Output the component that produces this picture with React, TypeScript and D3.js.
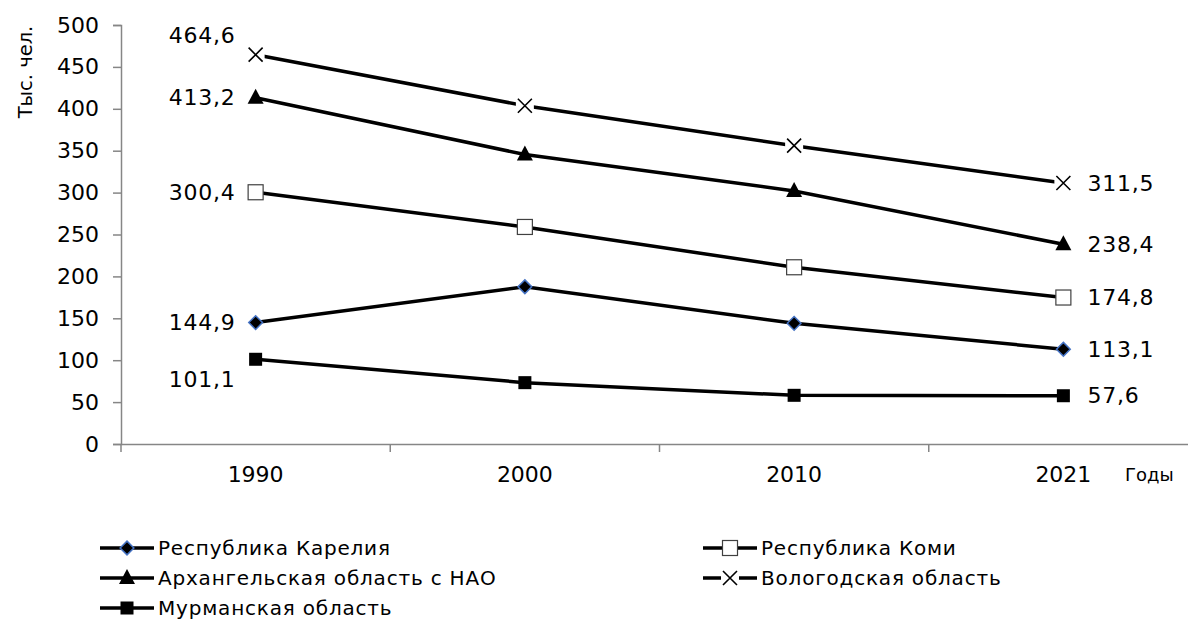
import React, { useEffect, useRef } from "react";
import * as d3 from "d3";

// Chart data
const years = ["1990", "2000", "2010", "2021"];
const karelia = [144.9, 187.7, 144.0, 113.1];
const komi = [300.4, 259.0, 210.9, 174.8];
const arkhangelsk = [413.2, 345.5, 302.0, 238.4];
const vologda = [464.6, 403.7, 356.0, 311.5];
const murmansk = [101.1, 73.2, 58.1, 57.6];
const yTicks = [0, 50, 100, 150, 200, 250, 300, 350, 400, 450, 500];

const seriesNames = [
  "Республика Карелия",
  "Республика Коми",
  "Архангельская область с НАО",
  "Вологодская область",
  "Мурманская область",
];
const seriesValues = [karelia, komi, arkhangelsk, vologda, murmansk];
const seriesMarkers = ["diamond", "openSquare", "triangle", "cross", "square"];

const FONT = "'DejaVu Sans', sans-serif";

const fmt = (v: number) => v.toFixed(1).replace(".", ",");

function drawMarker(g: any, type: string, cx: number, cy: number) {
  if (type === "diamond") {
    g.append("path")
      .attr("d", d3.symbol(d3.symbolDiamond2, 120)())
      .attr("transform", `translate(${cx},${cy})`)
      .attr("fill", "#000")
      .attr("stroke", "#4472c4")
      .attr("stroke-width", 1.5);
  } else if (type === "openSquare") {
    g.append("rect")
      .attr("x", cx - 7.5)
      .attr("y", cy - 7.5)
      .attr("width", 15)
      .attr("height", 15)
      .attr("fill", "#fff")
      .attr("stroke", "#404040")
      .attr("stroke-width", 1.2);
  } else if (type === "triangle") {
    g.append("path")
      .attr("d", `M${cx},${cy - 9}L${cx + 8},${cy + 6}L${cx - 8},${cy + 6}Z`)
      .attr("fill", "#000");
  } else if (type === "cross") {
    g.append("rect")
      .attr("x", cx - 9)
      .attr("y", cy - 7)
      .attr("width", 18)
      .attr("height", 14)
      .attr("fill", "#fff");
    g.append("path")
      .attr("d", `M${cx - 7},${cy - 7}L${cx + 7},${cy + 7}M${cx - 7},${cy + 7}L${cx + 7},${cy - 7}`)
      .attr("stroke", "#000")
      .attr("stroke-width", 1.6)
      .attr("fill", "none");
  } else if (type === "square") {
    g.append("rect")
      .attr("x", cx - 6.5)
      .attr("y", cy - 6.5)
      .attr("width", 13)
      .attr("height", 13)
      .attr("fill", "#000");
  }
}

export default function App() {
  const ref = useRef<SVGSVGElement>(null);

  useEffect(() => {
    var svg = d3.select(ref.current);
    svg.selectAll("*").remove();

    var left = 121,
      right = 1198,
      top = 25,
      bottom = 444;

    var x = d3.scaleBand().domain(years).range([left, right]);
    var y = d3.scaleLinear().domain([0, 500]).range([bottom, top]);
    var cx = (d: string) => (x(d) as number) + x.bandwidth() / 2;

    // Y axis
    var yAxis = svg
      .append("g")
      .attr("transform", `translate(${left},0)`)
      .call(d3.axisLeft(y).tickValues(yTicks).tickSize(8).tickPadding(14));
    yAxis.select(".domain").attr("stroke", "#868686").attr("stroke-width", 1.5);
    yAxis.selectAll(".tick line").attr("stroke", "#868686").attr("stroke-width", 1.5);
    yAxis.selectAll(".tick text").attr("font-family", FONT).attr("font-size", 22).attr("fill", "#000");

    // X axis
    var xAxis = svg
      .append("g")
      .attr("transform", `translate(0,${bottom})`)
      .call(d3.axisBottom(x).tickSize(0).tickPadding(22));
    xAxis.select(".domain").attr("stroke", "#868686").attr("stroke-width", 1.5);
    xAxis.selectAll(".tick text").attr("font-family", FONT).attr("font-size", 22).attr("fill", "#000");
    // category separator ticks
    svg
      .append("g")
      .selectAll("line")
      .data(years.slice(1))
      .join("line")
      .attr("x1", (d) => x(d) as number)
      .attr("x2", (d) => x(d) as number)
      .attr("y1", bottom)
      .attr("y2", bottom + 8)
      .attr("stroke", "#868686")
      .attr("stroke-width", 1.5);
    svg
      .append("line")
      .attr("x1", left)
      .attr("x2", left)
      .attr("y1", bottom)
      .attr("y2", bottom + 8)
      .attr("stroke", "#868686")
      .attr("stroke-width", 1.5);

    // Axis titles
    svg
      .append("text")
      .attr("transform", "translate(32,72) rotate(-90)")
      .attr("text-anchor", "middle")
      .attr("font-family", FONT)
      .attr("font-size", 19.5)
      .text("Тыс. чел.");
    svg
      .append("text")
      .attr("x", 1125)
      .attr("y", 481)
      .attr("font-family", FONT)
      .attr("font-size", 18)
      .text("Годы");

    // Lines and markers
    var line = d3
      .line<number>()
      .x((d, i) => cx(years[i]))
      .y((d) => y(d));

    seriesValues.forEach((vals, s) => {
      var g = svg.append("g");
      g.append("path")
        .attr("d", line(vals))
        .attr("fill", "none")
        .attr("stroke", "#000")
        .attr("stroke-width", 3.5);
      vals.forEach((v, i) => drawMarker(g, seriesMarkers[s], cx(years[i]), y(v)));
    });

    // Data labels at first and last year
    var labelOffsets = [0, 0, 0, -19, 20];
    seriesValues.forEach((vals, s) => {
      svg
        .append("text")
        .attr("x", cx(years[0]) - 20)
        .attr("y", y(vals[0]) + labelOffsets[s])
        .attr("dy", "0.35em")
        .attr("text-anchor", "end")
        .attr("font-family", FONT)
        .attr("font-size", 22)
        .attr("letter-spacing", 0.8)
        .text(fmt(vals[0]));
      svg
        .append("text")
        .attr("x", cx(years[3]) + 24)
        .attr("y", y(vals[3]))
        .attr("dy", "0.35em")
        .attr("font-family", FONT)
        .attr("font-size", 22)
        .attr("letter-spacing", 0.8)
        .text(fmt(vals[3]));
    });

    // Legend
    var legendPos = [
      [100, 548],
      [703, 548],
      [100, 578],
      [703, 578],
      [100, 608],
    ];
    seriesNames.forEach((name, s) => {
      var lx = legendPos[s][0],
        ly = legendPos[s][1];
      var g = svg.append("g");
      g.append("line")
        .attr("x1", lx)
        .attr("x2", lx + 54)
        .attr("y1", ly)
        .attr("y2", ly)
        .attr("stroke", "#000")
        .attr("stroke-width", 3.5);
      drawMarker(g, seriesMarkers[s], lx + 27, ly);
      g.append("text")
        .attr("x", lx + 58)
        .attr("y", ly)
        .attr("dy", "0.35em")
        .attr("font-family", FONT)
        .attr("font-size", 20)
        .attr("letter-spacing", 0.8)
        .text(name);
    });
  }, []);

  return <svg ref={ref} width={1188} height={623} style={{ position: "absolute", left: 0, top: 0 }}></svg>;
}
